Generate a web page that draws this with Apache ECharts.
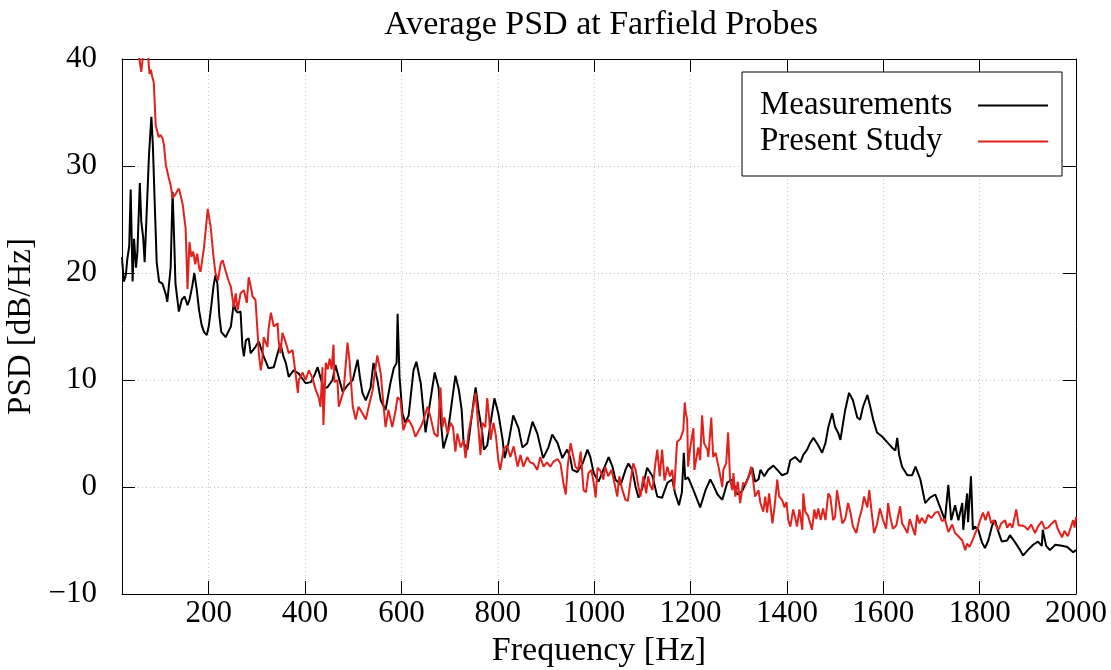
<!DOCTYPE html>
<html><head><meta charset="utf-8">
<script src="https://cdn.jsdelivr.net/npm/echarts@6/dist/echarts.min.js"></script>
<style>html,body{margin:0;padding:0;background:#fff}#c{width:1111px;height:670px}</style>
</head><body><div id="c"></div>
<script>
const titleText = 'Average PSD at Farfield Probes';
const xName = 'Frequency [Hz]';
const yName = 'PSD [dB/Hz]';
const seriesNames = ['Measurements', 'Present Study'];
const xTicks = [200, 400, 600, 800, 1000, 1200, 1400, 1600, 1800, 2000];

// [frequency Hz, PSD dB/Hz]
const measurements = [
[20,21.5],[21,20.8],[24,19.2],[28,19.8],[31,21.3],[35,22.5],[38,27.8],[42,19.2],[45,23.2],[49,20.5],[52,22],[57,28.4],[60,24.8],[64,23.3],[67,21],[71,25.4],[76,31],[81,34.6],[84,32],[88,26.4],[92,21],[97,19.2],[104,19],[111,18],[114,17.3],[121,20.5],[125,27.6],[128,23.5],[131,19],[138,16.4],[144,17.5],[150,17.8],[156,17],[160,17.5],[166,18.8],[170,20],[175,18.5],[180,16.5],[185,15.2],[190,14.5],[196,14.2],[200,15],[205,16.8],[210,18.8],[214,19.8],[218,19],[222,16],[226,14.5],[235,14.0],[246,15],[252,17.2],[256,16.5],[260,16.3],[266,16.4],[270,13.1],[273,12.2],[277,13.7],[283,13.9],[287,12.5],[297,13.1],[304,13.6],[314,12.2],[324,11.1],[335,11.2],[343,12.5],[349,13.4],[355,12.2],[360,11.6],[366,10.3],[376,10.9],[387,10.6],[401,9.7],[412,9.8],[420,10.5],[426,11.2],[432,10.2],[438,9.3],[446,9.3],[457,10],[463,11.4],[470,10.2],[478,8.9],[488,9.5],[499,10],[509,11.9],[514,10.2],[519,8.8],[526,8.1],[536,9.3],[542,11.6],[550,10],[557,8.1],[567,7.2],[577,9.7],[584,11.1],[590,11.6],[592,16.2],[596,10.3],[602,6.9],[608,6.0],[615,6.7],[625,10.9],[631,11.7],[640,9.7],[650,5.1],[660,8.1],[669,10.7],[677,9.3],[683,5.5],[687,3.6],[696,5.0],[706,8.4],[712,10.4],[719,9.1],[725,7.2],[729,4.1],[737,3.5],[743,5.6],[750,8.1],[754,9.3],[760,7.2],[768,5],[771,3.5],[778,3.9],[785,6],[793,8.3],[801,6.9],[810,4.4],[814,2.7],[822,4.1],[832,6.7],[843,5.5],[851,3.7],[861,4.1],[872,6.1],[882,5.0],[894,2.7],[905,3.7],[913,4.9],[924,4.1],[934,2.7],[944,3.5],[950,2.8],[955,1.6],[965,1.4],[976,2.2],[986,3.5],[992,2.8],[999,1.3],[1009,0.5],[1019,1.6],[1030,2.8],[1038,1.9],[1044,0.7],[1055,0.2],[1065,1.6],[1071,2.2],[1079,1.6],[1086,0],[1092,-1.0],[1100,-0.1],[1110,1.8],[1121,1.0],[1131,-0.9],[1141,-1.0],[1152,0.4],[1162,0.7],[1168,-0.6],[1176,-1.7],[1182,-0.5],[1186,3.2],[1189,0.7],[1195,0.9],[1206,-0.3],[1220,-1.9],[1231,-0.3],[1241,0.7],[1247,0.2],[1256,-0.7],[1266,-1.2],[1276,0.4],[1287,0.7],[1297,-0.7],[1307,-0.4],[1318,0.7],[1328,1.8],[1334,0.5],[1341,0.7],[1345,1.6],[1353,1.0],[1361,1.6],[1372,2.0],[1380,1.6],[1390,1.1],[1401,1.3],[1407,2.5],[1417,2.8],[1428,2.3],[1434,3.0],[1442,3.5],[1448,4.1],[1455,4.6],[1465,3.9],[1473,3.2],[1480,4.1],[1486,5.6],[1494,6.9],[1500,5.6],[1507,5.0],[1511,4.4],[1521,7.2],[1529,8.8],[1537,8.1],[1546,6.5],[1552,6.3],[1558,7.5],[1567,8.6],[1573,7.5],[1579,6.3],[1587,5.1],[1598,4.7],[1608,4.2],[1618,3.7],[1625,3.4],[1629,4.6],[1633,3.0],[1639,1.9],[1650,1.1],[1660,1.1],[1667,1.9],[1677,0.7],[1687,-1.5],[1697,-1.0],[1708,-0.7],[1718,-1.9],[1728,-3.1],[1735,0.2],[1741,-3.1],[1749,-1.7],[1756,-3.1],[1764,-1.5],[1766,-4],[1774,-0.6],[1776,-3.3],[1782,1.0],[1786,-4],[1790,-3.7],[1797,-4],[1805,-5.2],[1811,-5.7],[1818,-5],[1826,-3.6],[1832,-3.1],[1839,-4.2],[1846,-5.1],[1857,-5],[1863,-4.5],[1874,-5.2],[1884,-5.9],[1890,-6.4],[1900,-5.9],[1911,-5.4],[1921,-5.1],[1929,-5.5],[1931,-4],[1938,-5.5],[1946,-5.9],[1957,-5.4],[1971,-5.5],[1982,-5.6],[1994,-6.1],[2000,-5.9]
];

const presentStudy = [
[20,45],[28,43],[34,41.5],[38,40.3],[45,41],[52,41],[56,40],[60,38.8],[64,40.5],[70,41],[74,40.5],[77,38.6],[80,39],[83,38.3],[86,37.8],[90,33.8],[96,32.7],[100,32.9],[104,32.6],[107,32],[111,30.1],[117,28.9],[121,28.2],[125,27],[130,27.3],[134,27.6],[138,27.9],[142,27.2],[146,26.4],[152,24.2],[156,18.5],[160,22.9],[164,21.5],[168,22],[172,20.8],[176,21.8],[180,20.5],[183,20.1],[190,22.3],[198,26],[204,24.3],[210,21.5],[214,20],[219,19.3],[225,20.9],[229,21.2],[235,20.2],[241,19.3],[246,18.7],[252,16.8],[256,18.1],[260,16.5],[266,18.1],[273,18.4],[279,17.2],[283,19.6],[287,18.8],[291,17.8],[297,17.5],[302,14],[304,12.5],[308,10.9],[311,11.8],[314,14],[322,13.1],[324,14.7],[329,16.3],[335,15],[343,15.3],[345,13.7],[349,12.5],[353,14.4],[360,13.5],[366,12.5],[374,12.8],[380,10.7],[385,8.8],[387,10],[395,10.7],[401,10],[408,10.9],[415,10.2],[422,9.1],[428,8.4],[432,7.5],[436,11.2],[438,5.8],[443,11.6],[447,11],[451,12],[455,11],[459,13.3],[461,9.8],[467,10],[470,7.5],[476,8.4],[480,9],[488,13.5],[492,11.9],[499,7.5],[505,6.3],[511,7.5],[519,6.9],[526,6.3],[532,7.5],[540,9],[546,11.1],[550,12.3],[557,10.6],[563,7.5],[567,5.6],[573,7.2],[581,5.6],[588,7.2],[592,8.4],[598,8.1],[604,5.3],[609,6],[615,6.3],[623,5.6],[629,4.7],[640,5.6],[646,6.3],[654,7.5],[660,6.6],[668,5],[675,4.7],[681,9.3],[685,5.6],[689,6.5],[696,5],[702,6],[707,5.6],[712,3.3],[716,5],[723,3.7],[729,4.4],[733,2.7],[739,5],[748,7.2],[754,8.8],[758,6.5],[764,3],[768,6],[774,5.6],[778,8.3],[782,6.5],[785,4.4],[791,6],[796,4.8],[801,2.5],[805,1.6],[812,3.5],[819,3.9],[826,2.8],[833,3.8],[841,1.9],[847,3],[853,1.9],[861,2.8],[867,2.3],[874,2.2],[882,1.6],[888,2.8],[895,1.9],[902,2.3],[909,1.9],[916,2.4],[924,2.6],[930,2.2],[936,0.4],[941,-0.7],[945,1.9],[951,4.1],[956,3.0],[961,1.9],[967,1.6],[972,3.3],[975,1.5],[978,-0.3],[983,-0.5],[988,1.3],[994,1.6],[999,0.4],[1003,-1.0],[1007,1.8],[1013,1.5],[1019,0.7],[1023,1.9],[1029,1.0],[1036,1.6],[1042,0.4],[1048,-0.9],[1052,1.0],[1058,-0.2],[1065,-1.2],[1070,-1.3],[1075,0.4],[1081,2.2],[1086,1.6],[1092,0],[1096,-0.9],[1102,1.0],[1108,-0.6],[1112,1.0],[1116,0.2],[1121,-0.3],[1127,2.2],[1131,3.5],[1136,1.0],[1141,3.5],[1146,0.6],[1152,1.9],[1157,1.0],[1162,1.6],[1166,-0.3],[1172,4.2],[1179,4.5],[1185,5.3],[1188,7.9],[1190,7],[1193,6.3],[1195,1.9],[1199,3.6],[1206,5.5],[1208,1.6],[1214,3.2],[1216,3.7],[1220,2.5],[1224,6.7],[1228,4.1],[1235,3.5],[1237,2.8],[1243,6.5],[1247,2.8],[1252,3.2],[1258,1.9],[1266,0],[1268,1.6],[1274,2.2],[1278,5.1],[1282,0.7],[1287,-0.3],[1289,1.3],[1293,-0.9],[1298,0.5],[1303,-1.5],[1309,0.4],[1314,0.2],[1320,0.9],[1326,1.9],[1330,0.6],[1334,-0.9],[1341,-0.3],[1345,-1.5],[1351,-2.3],[1355,-0.9],[1359,-2.4],[1363,-0.6],[1370,-3.4],[1374,-2.0],[1380,0.7],[1384,-0.9],[1390,-1.2],[1395,-1.9],[1399,-1.4],[1403,-3.1],[1407,-3.7],[1413,-2.1],[1417,-2.8],[1421,-3.7],[1426,-2.1],[1432,-4],[1434,-0.6],[1438,-2.3],[1444,-2.7],[1452,-4],[1457,-2.1],[1461,-3.0],[1465,-2.0],[1470,-3.1],[1475,-2.0],[1480,-3.1],[1486,-0.6],[1490,-0.9],[1496,-3.1],[1500,-2.8],[1504,-0.3],[1508,-0.4],[1515,-3.4],[1521,-3.0],[1527,-1.5],[1532,-2.4],[1537,-3.7],[1544,-4.3],[1550,-3.0],[1556,-2.0],[1560,-0.9],[1567,-1.9],[1571,-0.3],[1576,-2.4],[1581,-4.3],[1587,-3.5],[1593,-2.0],[1599,-3.0],[1606,-3.9],[1610,-1.5],[1614,-2.7],[1620,-3.9],[1627,-3.6],[1635,-1.8],[1639,-3.4],[1643,-3.7],[1650,-4.3],[1655,-3.0],[1660,-3.7],[1666,-4.5],[1670,-2.6],[1675,-3.4],[1680,-2.9],[1687,-3.4],[1693,-2.6],[1700,-2.9],[1708,-2.4],[1714,-2.3],[1722,-3.2],[1728,-3.0],[1735,-4.2],[1743,-3.5],[1749,-4.3],[1756,-4.6],[1764,-5.0],[1770,-5.9],[1774,-5.3],[1779,-5.6],[1785,-5.0],[1791,-4.3],[1797,-3.7],[1801,-3.1],[1807,-2.4],[1812,-3.1],[1818,-2.3],[1824,-3.4],[1829,-3.1],[1835,-3.7],[1839,-4.0],[1845,-3.4],[1853,-3.1],[1857,-3.8],[1863,-3.4],[1868,-3.8],[1876,-2.1],[1881,-3.6],[1888,-3.6],[1894,-3.7],[1900,-4.0],[1907,-3.5],[1915,-4.3],[1921,-3.7],[1929,-3.2],[1935,-3.9],[1942,-3.8],[1948,-3.5],[1957,-3.1],[1962,-3.9],[1971,-4.7],[1976,-4.1],[1983,-4.6],[1989,-3.8],[1994,-3.1],[1997,-3.8],[2000,-2.8]
];

const FONT = '"Liberation Serif", "DejaVu Serif", serif';
const FS = 31;
const RED = '#e3211c';

const chart = echarts.init(document.getElementById('c'));
const grid = {show:true, lineStyle:{color:'#c4c4c4', type:[1,3], width:1}};
const minusFmt = v => (v < 0 ? '\u2212' + Math.abs(v) : String(v));
const option = {
  animation: false,
  backgroundColor: '#fff',
  title: {
    text: titleText, left: 596, top: 3, textAlign: 'center',
    textStyle: {fontFamily: FONT, fontSize: 34, fontWeight: 'normal', color: '#000'}
  },
  grid: {left: 122, right: 35, top: 59, bottom: 76, containLabel: false, outerBoundsMode: 'none'},
  legend: {
    orient: 'vertical', right: 49, top: 72, align: 'right',
    backgroundColor: '#fff', borderColor: '#000', borderWidth: 1, borderRadius: 0,
    padding: [17, 14, 18, 18], itemGap: 3, itemWidth: 70, itemHeight: 2, icon: 'rect',
    formatter: name => '{t|' + name + '}',
    textStyle: {
      fontFamily: FONT, fontSize: 33, color: '#000', padding: [0, 18, 0, 0],
      rich: {t: {fontFamily: FONT, fontSize: 33, color: '#000', width: 195, align: 'left'}}
    },
    data: seriesNames
  },
  xAxis: [{
    type: 'value', min: 20, max: 2000, position: 'bottom',
    axisLine: {show: true, onZero: false, lineStyle: {color: '#000', width: 1}},
    axisTick: {show: true, inside: true, length: 13, customValues: xTicks, lineStyle: {color: '#000'}},
    axisLabel: {customValues: xTicks, fontFamily: FONT, fontSize: FS, color: '#000', margin: 4,
                formatter: v => String(v)},
    splitLine: grid,
    name: xName, nameLocation: 'middle', nameGap: 38,
    nameTextStyle: {fontFamily: FONT, fontSize: 34, color: '#000'}
  }, {
    type: 'value', min: 20, max: 2000, position: 'top',
    axisLine: {show: true, onZero: false, lineStyle: {color: '#000', width: 1}},
    axisTick: {show: true, inside: true, length: 13, customValues: xTicks, lineStyle: {color: '#000'}},
    axisLabel: {show: false}, splitLine: {show: false}
  }],
  yAxis: [{
    type: 'value', min: -10, max: 40, interval: 10, position: 'left',
    axisLine: {show: true, onZero: false, lineStyle: {color: '#000', width: 1}},
    axisTick: {show: true, inside: true, length: 13, lineStyle: {color: '#000'}},
    axisLabel: {fontFamily: FONT, fontSize: FS, color: '#000', margin: 25, formatter: minusFmt},
    splitLine: grid,
    name: yName, nameLocation: 'middle', nameGap: 74, nameRotate: 90,
    nameTextStyle: {fontFamily: FONT, fontSize: 33, color: '#000'}
  }, {
    type: 'value', min: -10, max: 40, interval: 10, position: 'right',
    axisLine: {show: true, onZero: false, lineStyle: {color: '#000', width: 1}},
    axisTick: {show: true, inside: true, length: 13, lineStyle: {color: '#000'}},
    axisLabel: {show: false}, splitLine: {show: false}
  }],
  series: [{
    name: seriesNames[0], type: 'line', data: measurements, xAxisIndex: 0, yAxisIndex: 0,
    showSymbol: false, symbol: 'none', clip: true, color: '#000',
    lineStyle: {color: '#000', width: 2}, z: 3
  }, {
    name: seriesNames[1], type: 'line', data: presentStudy, xAxisIndex: 0, yAxisIndex: 0,
    showSymbol: false, symbol: 'none', clip: true, color: RED,
    lineStyle: {color: RED, width: 2}, z: 4
  }]
};
chart.setOption(option);
</script>
</body></html>
